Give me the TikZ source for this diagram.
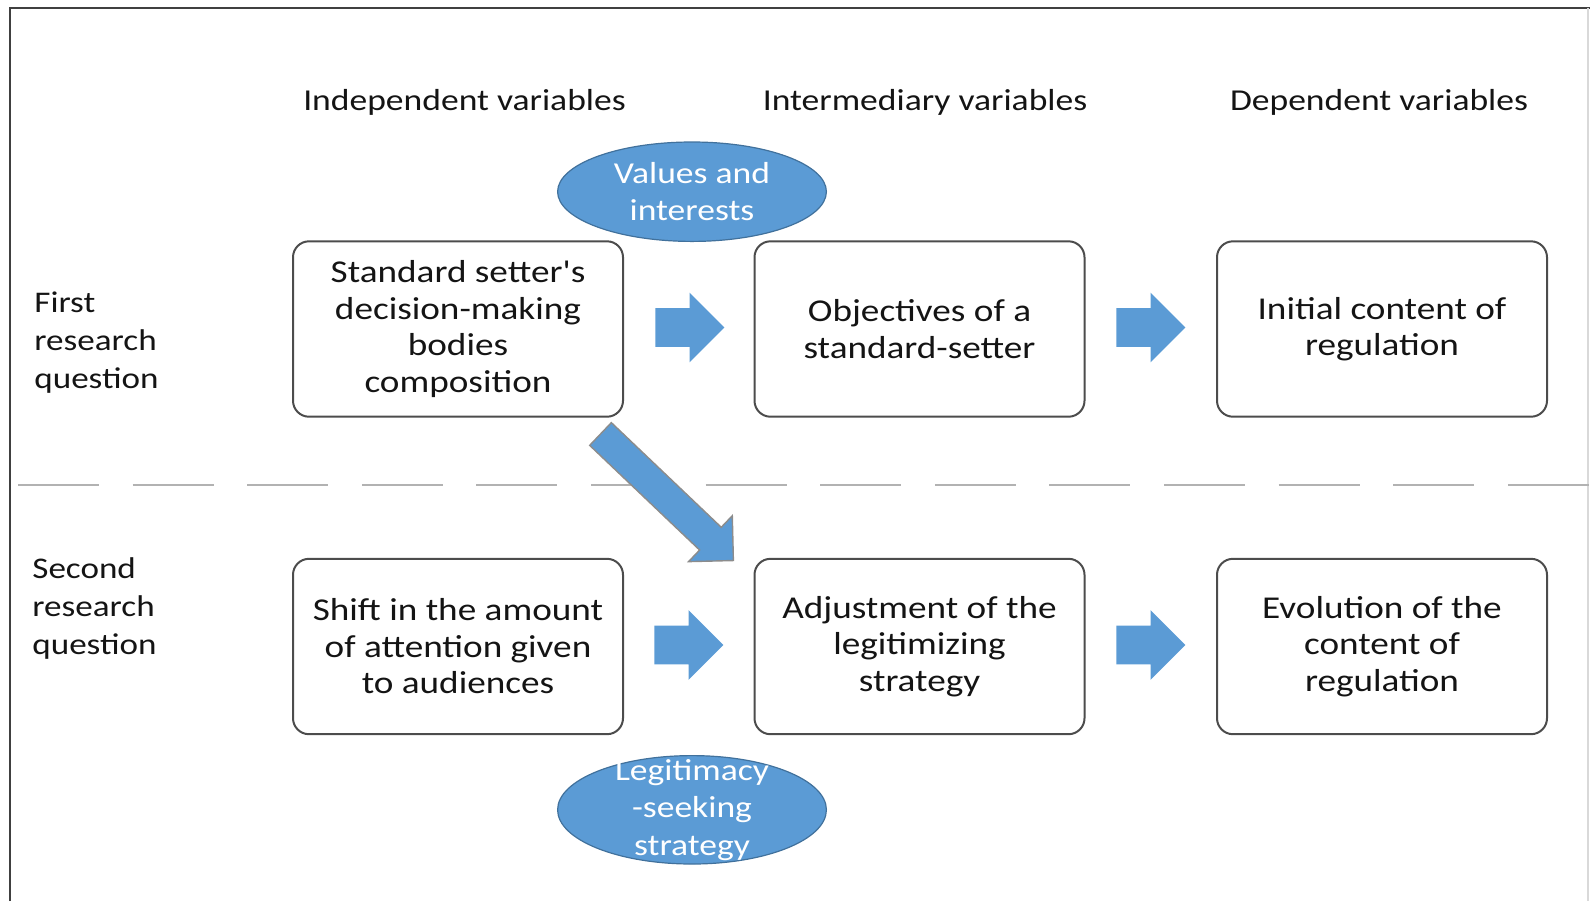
\documentclass[tikz,border=0pt]{standalone}
\usepackage{fontspec}
\setmainfont[FakeStretch=1.17,Ligatures=TeXOff]{Carlito}
\usetikzlibrary{shapes.geometric,shapes.arrows}
\definecolor{arrowblue}{RGB}{91,155,213}
\definecolor{ovaledge}{RGB}{65,113,156}
\definecolor{textdark}{RGB}{20,20,20}
\def\rowone{329}
\def\rowtwo{646.5}

\begin{document}
\begin{tikzpicture}[x=0.5pt,y=-0.5pt,
	varbox/.style={draw=black!70, line width=1pt, rounded corners=8pt, minimum width=165pt, minimum height=87.7pt, align=center, text=textdark, font=\fontsize{15.9}{18.25}\selectfont},
	headtext/.style={text=textdark, font=\fontsize{15.2}{18}\selectfont},
	rowtext/.style={anchor=west, align=left, inner sep=0pt, text=textdark, font=\fontsize{15}{19}\selectfont},
	oval/.style={ellipse, fill=arrowblue, draw=ovaledge, line width=0.6pt, minimum width=134.4pt, inner sep=0pt, align=center, text=white, font=\fontsize{15.2}{18.75}\selectfont},
	ovaltext/.style={align=center, inner sep=0pt, text=white, font=\fontsize{15.2}{18.75}\selectfont},
	blockarrow/.style={single arrow, anchor=tail, fill=arrowblue, inner xsep=0pt, inner ysep=9.5pt, minimum height=34.5pt, minimum width=34.5pt, single arrow head extend=7.75pt}]
		% Fix the size of the page and draw the frame.
		\useasboundingbox (0,0) rectangle (1590,901);
		\draw[black!75, line width=1.4pt] (10,901) -- (10,8) -- (1590,8);
		\draw[black!15, line width=0.8pt] (1588,8) -- (1588,901);

		% Column headings
		\node[headtext] (indep) at (464.5,102.5) {Independent variables};
		\node[headtext] (inter) at (925,102.5) {Intermediary variables};
		\node[headtext] (dep) at (1379,102.5) {Dependent variables};

		% Row labels
		\node[rowtext] (first) at (34,343) {First\\research\\question};
		\node[rowtext] (second) at (32,608.5) {Second\\research\\question};

		% Dashed line between the two questions
		\draw[black!30, line width=1.1pt, dash pattern=on 40.5pt off 16.8pt] (18,485) -- (1590,485);

		% First research question
		\node[varbox] (bodies) at (458,\rowone) {Standard setter's\\decision-making\\bodies\\composition};
		\node[varbox] (objectives) at (919.5,\rowone) {Objectives of a\\standard-setter};
		\node[varbox] (initial) at (1382,\rowone) {Initial content of\\regulation};
		\node[blockarrow] (arrowa) at (655,327.5) {};
		\node[blockarrow] (arrowb) at (1116,327.5) {};

		% Second research question
		\node[varbox] (shift) at (458,\rowtwo) {Shift in the amount\\of attention given\\to audiences};
		\node[varbox] (adjust) at (919.5,\rowtwo) {Adjustment of the\\legitimizing\\strategy};
		\node[varbox] (evolution) at (1382,\rowtwo) {Evolution of the\\content of\\regulation};
		\node[blockarrow] (arrowc) at (654,645) {};
		\node[blockarrow] (arrowd) at (1116,645) {};

		% Diagonal arrow from the first row down to the second
		\node[single arrow, anchor=tail, fill=arrowblue, draw=black!45, line width=0.7pt, inner xsep=0pt, inner ysep=7.5pt, minimum height=91.75pt, minimum width=31pt, single arrow head extend=8pt, rotate=-43.6] (diag) at (600,433.5) {};

		% Blue ovals
		\node[oval, minimum height=49.7pt] (values) at (692,191.7) {Values and\\interests};
		\node[oval, minimum height=54.2pt, label={[ovaltext]center:Legitimacy\\-seeking\\strategy}] (legit) at (692,809.8) {};
\end{tikzpicture}
\end{document}
